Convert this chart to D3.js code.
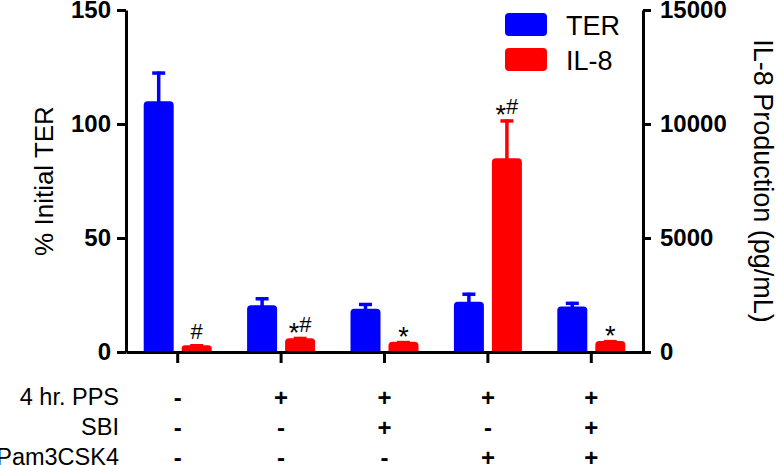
<!DOCTYPE html>
<html>
<head>
<meta charset="utf-8">
<script src="https://cdn.jsdelivr.net/npm/d3@7"></script>
<style>
  body { margin: 0; background: #fff; }
  svg { display: block; font-family: "Liberation Sans", Arial, sans-serif; }
</style>
</head>
<body>
<div id="chart"></div>
<script>
// data
var groups = ["g1", "g2", "g3", "g4", "g5"];
var ppsRow = ["-", "+", "+", "+", "+"];
var sbiRow = ["-", "-", "+", "-", "+"];
var pamRow = ["-", "-", "-", "+", "+"];
var rowLabels = ["4 hr. PPS", "SBI", "Pam3CSK4"];
var terValues = [110, 20.5, 19, 22, 20];
var terErrors = [13, 3.5, 2.5, 4, 2];
var il8Values = [300, 600, 450, 8500, 480];
var il8Errors = [40, 60, 30, 1700, 40];
var marks = ["#", "*#", "*", "*#", "*"];
var leftTicks = [0, 50, 100, 150];
var rightTicks = [0, 5000, 10000, 15000];

function draw_chart() {
    var width = 776, height = 465;
    var left = 126, right = 643, top = 10, bottom = 352;
    var blue = "#0000ff", red = "#ff0000";

    var svg = d3.select("#chart")
        .append("svg")
        .attr("width", width)
        .attr("height", height);

    var x = d3.scaleBand()
        .domain(groups)
        .range([left, right]);

    var yL = d3.scaleLinear().domain([0, 150]).range([bottom, top]);
    var yR = d3.scaleLinear().domain([0, 15000]).range([bottom, top]);

    var barW = 30, gap = 4;

    function barPath(x0, y0, w, h) {
        var r = Math.min(4, h / 2);
        return "M" + x0 + "," + (y0 + h) +
            "V" + (y0 + r) +
            "Q" + x0 + "," + y0 + " " + (x0 + r) + "," + y0 +
            "H" + (x0 + w - r) +
            "Q" + (x0 + w) + "," + y0 + " " + (x0 + w) + "," + (y0 + r) +
            "V" + (y0 + h) + "Z";
    }

    var series = [
        { name: "TER", color: blue, vals: terValues, errs: terErrors, y: yL, off: -gap - barW },
        { name: "IL-8", color: red, vals: il8Values, errs: il8Errors, y: yR, off: gap }
    ];

    series.forEach(function(s) {
        var g = svg.append("g");
        groups.forEach(function(grp, i) {
            var cx = x(grp) + x.bandwidth() / 2 + s.off;
            var yTop = s.y(s.vals[i]);
            var yErr = s.y(s.vals[i] + s.errs[i]);
            var mid = cx + barW / 2;
            // error bar (upper half only)
            g.append("line")
                .attr("x1", mid).attr("x2", mid)
                .attr("y1", yTop + 2).attr("y2", yErr)
                .attr("stroke", s.color).attr("stroke-width", 3.5);
            g.append("line")
                .attr("x1", mid - 6.5).attr("x2", mid + 6.5)
                .attr("y1", yErr + 1.5).attr("y2", yErr + 1.5)
                .attr("stroke", s.color).attr("stroke-width", 3.5);
            g.append("path")
                .attr("d", barPath(cx, yTop, barW, bottom - yTop))
                .attr("fill", s.color);
        });
    });

    // significance marks above IL-8 bars
    groups.forEach(function(grp, i) {
        var cx = x(grp) + x.bandwidth() / 2 + gap + barW / 2;
        var yErr = yR(il8Values[i] + il8Errors[i]);
        var t = svg.append("text")
            .attr("x", cx)
            .attr("y", yErr - 5)
            .attr("text-anchor", "middle")
            .attr("fill", "#000");
        var shifted = 0;
        marks[i].split("").forEach(function(ch) {
            if (ch === "*") {
                t.append("tspan").attr("dy", "10").style("font-size", "27px").text("*");
                shifted = 10;
            } else {
                t.append("tspan").attr("dy", -shifted).style("font-size", "22px").text(ch);
                shifted = 0;
            }
        });
    });

    // axes
    var axL = svg.append("g")
        .attr("transform", "translate(" + left + ",0)")
        .call(d3.axisLeft(yL).tickValues(leftTicks).tickSize(9).tickSizeOuter(0).tickPadding(6));
    var axR = svg.append("g")
        .attr("transform", "translate(" + right + ",0)")
        .call(d3.axisRight(yR).tickValues(rightTicks).tickFormat(d3.format("d"))
            .tickSize(8).tickSizeOuter(0).tickPadding(9));
    var axB = svg.append("g")
        .attr("transform", "translate(0," + bottom + ")")
        .call(d3.axisBottom(x).tickSize(11).tickSizeOuter(0).tickFormat(""));

    [axL, axR, axB].forEach(function(a) {
        a.select(".domain").attr("stroke", "#000").attr("stroke-width", 3);
        a.selectAll(".tick line").attr("stroke", "#000").attr("stroke-width", 3);
        a.selectAll(".tick text")
            .attr("fill", "#000")
            .style("font-size", "24px")
            .style("font-weight", "bold");
    });

    // axis titles
    svg.append("text")
        .attr("transform", "translate(53," + ((top + bottom) / 2) + ") rotate(-90)")
        .attr("text-anchor", "middle")
        .style("font-size", "26px")
        .text("% Initial TER");
    svg.append("text")
        .attr("transform", "translate(754," + ((top + bottom) / 2) + ") rotate(90)")
        .attr("text-anchor", "middle")
        .style("font-size", "27px")
        .text("IL-8 Production (pg/mL)");

    // legend
    var legend = svg.append("g");
    series.forEach(function(s, i) {
        legend.append("rect")
            .attr("x", 505).attr("y", 13 + i * 35)
            .attr("width", 42).attr("height", 23)
            .attr("rx", 4)
            .attr("fill", s.color);
        legend.append("text")
            .attr("x", 566).attr("y", 25 + i * 35)
            .attr("dy", "0.36em")
            .style("font-size", "27px")
            .text(s.name);
    });

    // treatment table
    var rows = [ppsRow, sbiRow, pamRow];
    var rowY = [397, 427, 457];
    rows.forEach(function(row, r) {
        svg.append("text")
            .attr("x", 119).attr("y", rowY[r])
            .attr("dy", "0.36em")
            .attr("text-anchor", "end")
            .style("font-size", "23.5px")
            .text(rowLabels[r]);
        groups.forEach(function(grp, i) {
            svg.append("text")
                .attr("x", x(grp) + x.bandwidth() / 2)
                .attr("y", rowY[r])
                .attr("dy", "0.36em")
                .attr("text-anchor", "middle")
                .style("font-size", "24px")
                .style("font-weight", "bold")
                .text(row[i]);
        });
    });
}

draw_chart();
</script>
</body>
</html>
